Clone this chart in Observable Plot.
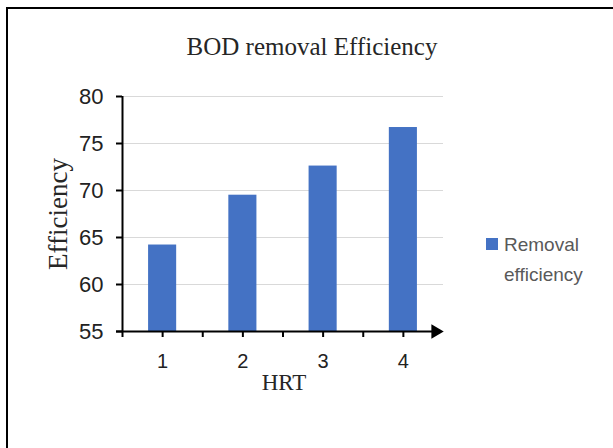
<!DOCTYPE html>
<html><head><meta charset="utf-8">
<script src="https://cdn.jsdelivr.net/npm/d3@7"></script>
<script src="https://cdn.jsdelivr.net/npm/@observablehq/plot@0.6"></script>
<style>
body{margin:0;background:#fff}
#wrap{position:relative;width:613px;height:448px;overflow:hidden;background:#fff}
#frame{position:absolute;left:6px;top:7px;width:700px;height:600px;border-top:2px solid #000;border-left:2px solid #000}
#chart{position:absolute;left:0;top:0}
.t{position:absolute;white-space:nowrap;color:#262626}
#title{left:312px;top:47px;font:25px "Liberation Serif",serif;transform:translate(-50%,-50%)}
#ylab{left:58px;top:214px;font:27px "Liberation Serif",serif;transform:translate(-50%,-50%) rotate(-90deg)}
#xlab{left:284px;top:383px;font:23px "Liberation Serif",serif;transform:translate(-50%,-50%)}
#legend{left:486px;top:232px;font:19px "Liberation Sans",sans-serif;color:#595959;line-height:30px}
#legend .sw{position:absolute;left:0;top:6px;width:12px;height:12px;background:#4472C4}
#legend .lbl{position:absolute;left:18px;top:-2px;white-space:pre}
</style></head>
<body>
<div id="wrap">
  <div id="frame"></div>
  <div id="chart"></div>
  <div class="t" id="title"></div>
  <div class="t" id="ylab"></div>
  <div class="t" id="xlab"></div>
  <div class="t" id="legend"><span class="sw"></span><span class="lbl"></span></div>
</div>
<script>
const titleText = "BOD removal Efficiency";
const xLabel = "HRT";
const yLabel = "Efficiency";
const seriesName = "Removal\nefficiency";
const hrt = [1, 2, 3, 4];
const efficiency = [64.2, 69.5, 72.6, 76.7];
const yTicks = [55, 60, 65, 70, 75, 80];
const xTickPositions = [0.5, 1, 1.5, 2, 2.5, 3, 3.5, 4];
const xDomain = [0.5, 4.5];
const yDomain = [55, 80];
const barHalfWidth = 0.175;
const barColor = "#4472C4";

const data = hrt.map((h, i) => ({hrt: h, eff: efficiency[i]}));

document.getElementById("title").textContent = titleText;
document.getElementById("ylab").textContent = yLabel;
document.getElementById("xlab").textContent = xLabel;
document.querySelector("#legend .lbl").textContent = seriesName;

const chart = Plot.plot({
  width: 613,
  height: 448,
  marginLeft: 122,
  marginRight: 170,
  marginTop: 96,
  marginBottom: 117,
  x: {type: "linear", domain: xDomain},
  y: {domain: yDomain},
  style: {background: "transparent"},
  marks: [
    Plot.gridY(yTicks.filter(t => t > yDomain[0]), {stroke: "#d9d9d9", strokeOpacity: 1, strokeWidth: 1.2}),
    Plot.rectY(data, {x1: d => d.hrt - barHalfWidth, x2: d => d.hrt + barHalfWidth, y1: yDomain[0], y2: "eff", fill: barColor}),
    Plot.ruleX([xDomain[0]], {y1: yDomain[0], y2: yDomain[1], stroke: "#000", strokeWidth: 2}),
    Plot.axisY(yTicks, {tickSize: 6, tickPadding: 13, stroke: "#000", strokeWidth: 2, fill: "#222", fontSize: 22, fontFamily: "Liberation Sans", label: null}),
    Plot.ruleY([yDomain[0]], {x1: xDomain[0], x2: xDomain[1], stroke: "#000", strokeWidth: 2, dx: -6}),
    Plot.axisX(xTickPositions, {tickSize: 6, tickPadding: 16, stroke: "#000", strokeWidth: 2, fill: "#222", fontSize: 20, fontFamily: "Liberation Sans", label: null,
      tickFormat: d => Number.isInteger(d) ? String(d) : ""}),
    Plot.dot([xDomain[1]], {x: d => d, y: yDomain[0], symbol: "triangle", fill: "#000", stroke: null, r: 5.3, rotate: 90, dx: -8})
  ]
});
document.getElementById("chart").appendChild(chart);
</script>
</body></html>
